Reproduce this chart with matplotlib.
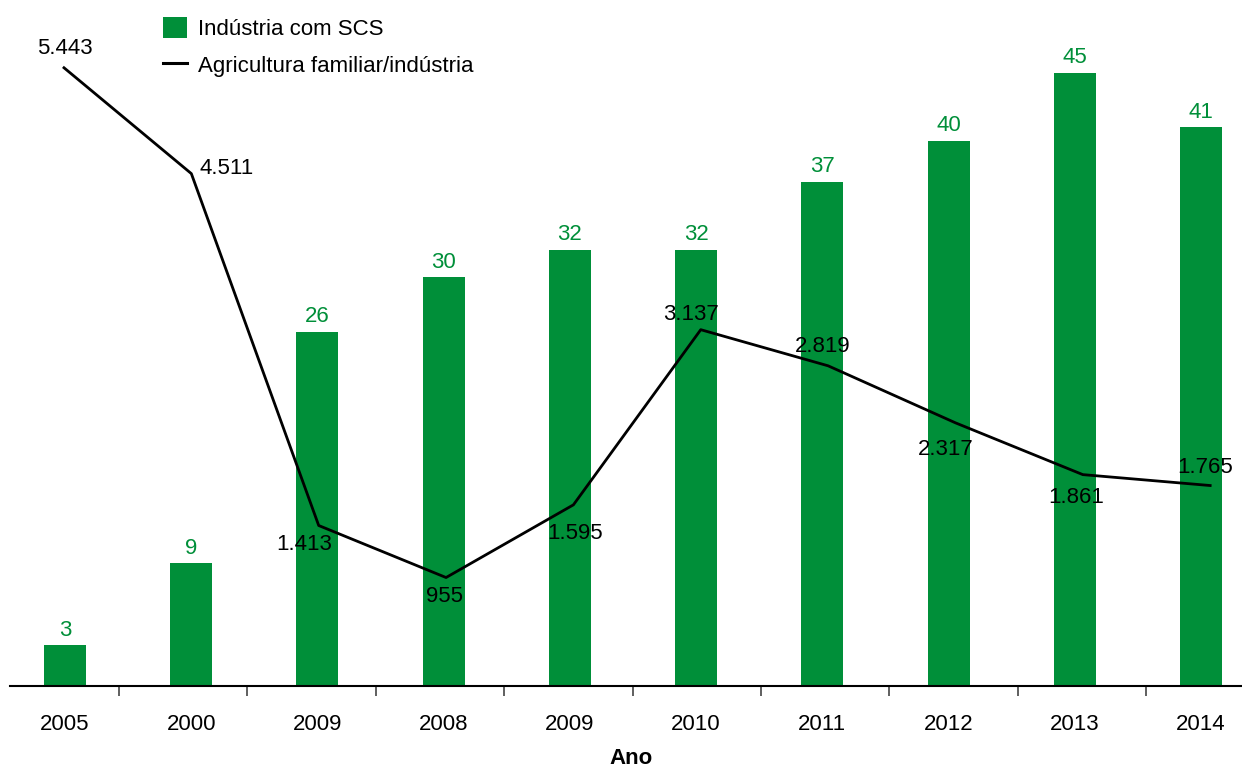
import numpy as np
import matplotlib.pyplot as plt
from matplotlib.patches import Patch
from matplotlib.lines import Line2D

anos = ["2005", "2000", "2009", "2008", "2009", "2010", "2011", "2012", "2013", "2014"]
industria_scs = [3, 9, 26, 30, 32, 32, 37, 40, 45, 41]
agric_por_industria = [5443, 4511, 1413, 955, 1595, 3137, 2819, 2317, 1861, 1765]
agric_labels = ["5.443", "4.511", "1.413", "955", "1.595", "3.137", "2.819", "2.317", "1.861", "1.765"]

# label offsets (pixels) for the line values
line_offsets = [(1, 19), (8, 5), (-15, -19), (-2, -19), (2, -29), (-10, 15), (-5, 19), (-10, -27), (-7, -23), (-5, 18)]
line_ha = ["center", "left", "center", "center", "center", "center", "center", "center", "center", "center"]

GREEN = "#008f39"
FS = 16
plt.rcParams["font.family"] = ["Liberation Sans", "DejaVu Sans"]

W, H = 1242, 771
fig = plt.figure(figsize=(W / 100, H / 100), dpi=100)
rect = [10 / W, (H - 686) / H, 1 - 10 / W, (686 - 4.5) / H]

ax = fig.add_axes(rect)
x = np.arange(len(anos))
ax.bar(x, industria_scs, width=0.333, color=GREEN, zorder=2)
ax.set_xlim(-0.436, 9.325)
ax.set_ylim(0, 50)
for s in ["top", "right", "left"]:
    ax.spines[s].set_visible(False)
ax.spines["bottom"].set_linewidth(1.5)
ax.set_yticks([])
ax.set_xticks(x)
ax.set_xticklabels(anos, fontsize=FS)
ax.tick_params(axis="x", which="major", length=0, pad=20)
ax.set_xticks(0.428 + np.arange(9) * 1.0173, minor=True)
ax.tick_params(axis="x", which="minor", length=7, width=1.2, color="#444444")

for xi, v in zip(x, industria_scs):
    ax.annotate(str(v), (xi, v), xytext=(0, 15), textcoords="offset pixels",
                ha="center", va="center", fontsize=FS, color=GREEN)

# line drawn on an overlay axes
ax2 = fig.add_axes(rect)
ax2.patch.set_visible(False)
ax2.plot(x, agric_por_industria, color="black", linewidth=2, zorder=3)
ax2.set_xlim(-0.424, 9.25)
ax2.set_ylim(0, 6000)
ax2.axis("off")
for xi, v, lab, off, ha in zip(x, agric_por_industria, agric_labels, line_offsets, line_ha):
    ax2.annotate(lab, (xi, v), xytext=off, textcoords="offset pixels",
                 ha=ha, va="center", fontsize=FS, color="black")

handles = [Patch(facecolor=GREEN, edgecolor="none"),
           Line2D([0], [0], color="black", linewidth=2.2)]
fig.legend(handles, ["Indústria com SCS", "Agricultura familiar/indústria"],
           loc="upper left", bbox_to_anchor=(163 / W, 1 - 17 / H),
           frameon=False, fontsize=FS, borderpad=0, borderaxespad=0,
           handlelength=1.08, handleheight=1.08, handletextpad=0.5,
           labelspacing=0.62)

fig.text(631 / W, 1 - 759 / H, "Ano", ha="center", va="center",
         fontsize=FS, fontweight="bold")

fig.savefig("out.png", dpi=100)
